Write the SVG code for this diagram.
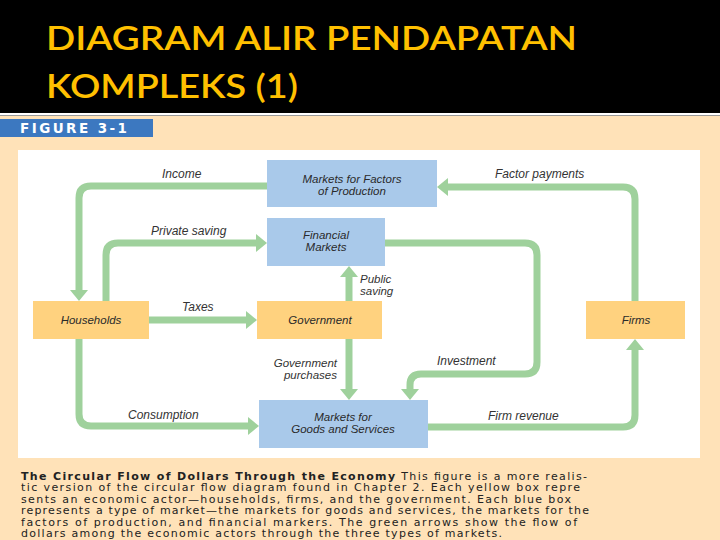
<svg xmlns="http://www.w3.org/2000/svg" width="720" height="540" viewBox="0 0 720 540">
<style>
.title{font-family:Lato,"Open Sans","Liberation Sans",sans-serif;font-size:33px;font-weight:600;fill:#FFC000}
.blue{fill:#A9C9EA}
.yel{fill:#FFD27F}
.nl{font-family:"Liberation Sans",Arial,sans-serif;font-style:italic;font-size:11.5px;fill:#2a2a2a;text-anchor:middle}
.el{font-family:"Liberation Sans",Arial,sans-serif;font-style:italic;font-size:12px;fill:#333}
.el2{font-family:"Liberation Sans",Arial,sans-serif;font-style:italic;font-size:11.5px;fill:#333}
.flow{fill:none;stroke:#9FD19C;stroke-width:7;stroke-linejoin:round}
.cap{font-family:"DejaVu Sans","Liberation Sans",sans-serif;font-size:11px;fill:#222}
</style>
<defs>
<marker id="ah" viewBox="0 0 11 18" refX="0" refY="9" markerWidth="11" markerHeight="18" markerUnits="userSpaceOnUse" orient="auto">
<path d="M0,0 L11,9 L0,18 z" fill="#9FD19C"/>
</marker>
</defs>
<rect x="0" y="0" width="720" height="540" fill="#FFE2B8"/>
<rect x="0" y="0" width="720" height="113" fill="#000"/>
<rect x="0" y="113" width="720" height="2" fill="#fff"/>
<rect x="0" y="115" width="720" height="1" fill="#9a9a9a"/>
<text class="title" x="46" y="50" textLength="531" lengthAdjust="spacingAndGlyphs">DIAGRAM ALIR PENDAPATAN</text>
<text class="title" x="46" y="98" textLength="252" lengthAdjust="spacingAndGlyphs">KOMPLEKS (1)</text>
<rect x="0" y="119" width="153" height="18" fill="#3C78C0"/>
<text x="20" y="133" font-family="'DejaVu Sans',sans-serif" font-weight="bold" font-size="13.5" fill="#fff" textLength="107" lengthAdjust="spacing">FIGURE 3-1</text>
<rect x="18" y="150" width="682" height="308" fill="#fff"/>
<g id="connectors">
<path class="flow" marker-end="url(#ah)" d="M267,186 H91 Q79,186 79,198 V290"/>
<path class="flow" marker-end="url(#ah)" d="M106,301 V255 Q106,243 118,243 H256"/>
<path class="flow" marker-end="url(#ah)" d="M149,320 H246"/>
<path class="flow" marker-end="url(#ah)" d="M349,301 V277"/>
<path class="flow" marker-end="url(#ah)" d="M349,339 V389"/>
<path class="flow" marker-end="url(#ah)" d="M385,243 H525 Q537,243 537,255 V362 Q537,374 525,374 H421 Q410,374 410,385 V389"/>
<path class="flow" marker-end="url(#ah)" d="M79,339 V414 Q79,426 91,426 H248"/>
<path class="flow" marker-end="url(#ah)" d="M428,427 H623 Q635,427 635,415 V350"/>
<path class="flow" marker-end="url(#ah)" d="M635,301 V199 Q635,187 623,187 H448"/>
<text class="el" x="162" y="178">Income</text>
<text class="el" x="151" y="235">Private saving</text>
<text class="el" x="182" y="311">Taxes</text>
<text class="el2" x="360" y="283">Public</text>
<text class="el2" x="360" y="295">saving</text>
<text class="el2" x="337" y="367" text-anchor="end">Government</text>
<text class="el2" x="337" y="379" text-anchor="end">purchases</text>
<text class="el" x="437" y="365">Investment</text>
<text class="el" x="128" y="419">Consumption</text>
<text class="el" x="488" y="420">Firm revenue</text>
<text class="el" x="495" y="178">Factor payments</text>
</g>
<g id="factors">
<rect class="blue" x="267" y="160" width="170" height="47"/>
<text class="nl" x="352" y="183">Markets for Factors</text>
<text class="nl" x="352" y="195">of Production</text>
</g>
<g id="financial">
<rect class="blue" x="267" y="218" width="118" height="48"/>
<text class="nl" x="326" y="239">Financial</text>
<text class="nl" x="326" y="251">Markets</text>
</g>
<g id="households">
<rect class="yel" x="33" y="301" width="116" height="38"/>
<text class="nl" x="91" y="324" font-size="12">Households</text>
</g>
<g id="government">
<rect class="yel" x="257" y="301" width="125" height="38"/>
<text class="nl" x="320" y="324" font-size="12">Government</text>
</g>
<g id="firms">
<rect class="yel" x="586" y="301" width="99" height="38"/>
<text class="nl" x="636" y="324" font-size="12">Firms</text>
</g>
<g id="goods">
<rect class="blue" x="259" y="400" width="169" height="48"/>
<text class="nl" x="343" y="421">Markets for</text>
<text class="nl" x="343" y="433">Goods and Services</text>
</g>
<g id="caption">
<text class="cap" x="21" y="479.5" textLength="566" lengthAdjust="spacing"><tspan font-weight="bold">The Circular Flow of Dollars Through the Economy</tspan>  This figure is a more realis-</text>
<text class="cap" x="21" y="491" textLength="559" lengthAdjust="spacing">tic version of the circular flow diagram found in Chapter 2. Each yellow box repre</text>
<text class="cap" x="21" y="502.5" textLength="550" lengthAdjust="spacing">sents an economic actor—households, firms, and the government. Each blue box</text>
<text class="cap" x="21" y="514" textLength="568" lengthAdjust="spacing">represents a type of market—the markets for goods and services, the markets for the</text>
<text class="cap" x="21" y="525.5" textLength="556" lengthAdjust="spacing">factors of production, and financial markers. The green arrows show the flow of</text>
<text class="cap" x="21" y="537" textLength="481" lengthAdjust="spacing">dollars among the economic actors through the three types of markets.</text>
</g>
</svg>
